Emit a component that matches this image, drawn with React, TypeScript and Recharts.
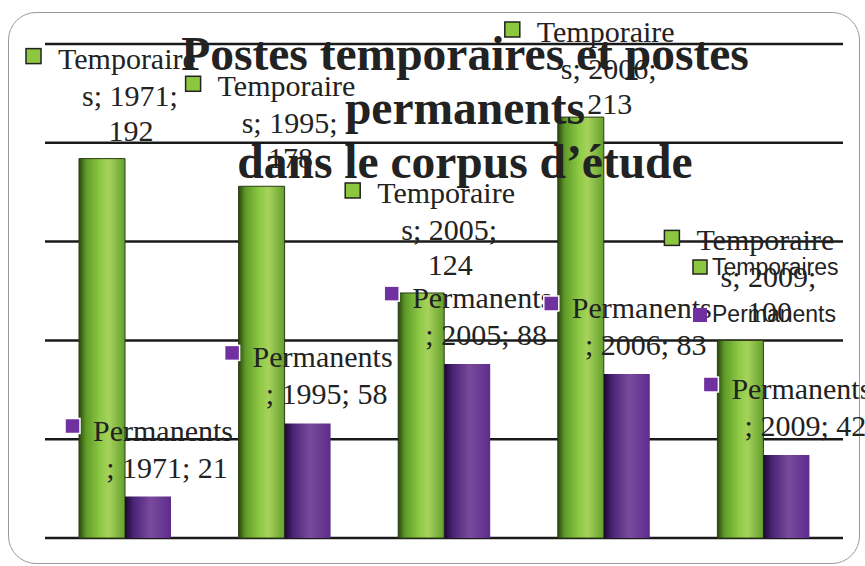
import React from "react";
import { BarChart, Bar, XAxis, YAxis, CartesianGrid, LabelList } from "recharts";

const years = ["1971", "1995", "2005", "2006", "2009"];
const temporaires = [192, 178, 124, 213, 100];
const permanents = [21, 58, 88, 83, 42];
const yTicks = [0, 50, 100, 150, 200, 250];
const seriesNames = ["Temporaires", "Permanents"];
const titleLines = ["Postes temporaires et postes", "permanents", "dans le corpus d’étude"];

const data = years.map((year, i) => ({
  year,
  temporaires: temporaires[i],
  permanents: permanents[i],
}));

const GREEN = "#8dc63f";
const PURPLE = "#7030a0";
const SERIF = "'Liberation Serif', 'Times New Roman', serif";

function box(props: any) {
  const vb = props.viewBox || {};
  return {
    x: props.x ?? vb.x,
    y: props.y ?? vb.y,
    width: props.width ?? vb.width,
    index: props.index,
    value: props.value,
  };
}

const TempLabel = (props: any) => {
  const { x, y, width, index, value } = box(props);
  const cx = x + width;
  const base = y - 90;
  const shift = Math.max(0, 42 - base);
  const t = { fontFamily: SERIF, fontSize: 30, fill: "#222" };
  return (
    <g>
      <rect x={cx - 99} y={base - 20 + shift} width={15} height={15} fill={GREEN} stroke="#222" strokeWidth={1.5} />
      <text x={cx - 67} y={base + shift} {...t}>Temporaire</text>
      <text x={cx + 5} y={y - 53 + shift} textAnchor="middle" {...t}>{`s; ${years[index]};`}</text>
      <text x={cx + 6} y={y - 18 + shift} textAnchor="middle" {...t}>{value}</text>
    </g>
  );
};

const PermLabel = (props: any) => {
  const { x, y, index, value } = box(props);
  const base = y - 56;
  const t = { fontFamily: SERIF, fontSize: 30, fill: "#222" };
  return (
    <g>
      <rect x={x - 60} y={base - 22} width={15} height={15} fill={PURPLE} stroke="#fff" strokeWidth={1.5} />
      <text x={x - 32} y={base} {...t}>Permanents</text>
      <text x={x + 42} y={y - 19} textAnchor="middle" {...t}>{`; ${years[index]}; ${value}`}</text>
    </g>
  );
};

export default function App() {
  return (
    <div style={{ position: "absolute", left: 0, top: 0, width: 865, height: 566, background: "#fff" }}>
      <div
        style={{
          position: "absolute",
          left: 8,
          top: 12,
          width: 850,
          height: 550,
          border: "1.5px solid #9a9a9a",
          borderRadius: 28,
        }}
      />
      <BarChart
        width={865}
        height={566}
        data={data}
        margin={{ top: 44, right: 22, bottom: 28, left: 45 }}
        barSize={46}
        barGap={0}
      >
        <defs>
          <linearGradient id="gGreen" x1="0" y1="0" x2="1" y2="0">
            <stop offset="0%" stopColor="#2a4510" />
            <stop offset="15%" stopColor="#5e9a28" />
            <stop offset="45%" stopColor="#8cc844" />
            <stop offset="65%" stopColor="#a6d25c" />
            <stop offset="100%" stopColor="#64a02c" />
          </linearGradient>
          <linearGradient id="gPurple" x1="0" y1="0" x2="1" y2="0">
            <stop offset="0%" stopColor="#1a0a2e" />
            <stop offset="18%" stopColor="#4a2276" />
            <stop offset="55%" stopColor="#7a4a9c" />
            <stop offset="100%" stopColor="#5e2c8c" />
          </linearGradient>
        </defs>
        <CartesianGrid vertical={false} stroke="#1a1a1a" strokeWidth={2.5} />
        <XAxis dataKey="year" tick={false} height={0} axisLine={{ stroke: "#7f98a2", strokeWidth: 2 }} tickLine={false} />
        <YAxis hide domain={[0, 250]} ticks={yTicks} />
        <Bar dataKey="temporaires" name={seriesNames[0]} fill="url(#gGreen)" stroke="#2c3d14" strokeWidth={1} isAnimationActive={false}>
          <LabelList dataKey="temporaires" content={TempLabel} />
        </Bar>
        <Bar dataKey="permanents" name={seriesNames[1]} fill="url(#gPurple)" isAnimationActive={false}>
          <LabelList dataKey="permanents" content={PermLabel} />
        </Bar>
      </BarChart>
      <svg width={865} height={566} style={{ position: "absolute", left: 0, top: 0, pointerEvents: "none" }}>
        {titleLines.map((line, i) => (
          <text
            key={line}
            x={465}
            y={70 + i * 54}
            textAnchor="middle"
            fontFamily={SERIF}
            fontWeight="bold"
            fontSize={47.5}
            fill="#222"
          >
            {line}
          </text>
        ))}
        {seriesNames.map((name, i) => (
          <g key={name}>
            <rect
              x={693}
              y={260 + i * 48}
              width={14}
              height={14}
              fill={i === 0 ? GREEN : PURPLE}
              stroke={i === 0 ? "#222" : "none"}
              strokeWidth={1.5}
            />
            <text x={712} y={275 + i * 47} fontFamily="'Liberation Sans', Arial, sans-serif" fontSize={23} fill="#222">
              {name}
            </text>
          </g>
        ))}
      </svg>
    </div>
  );
}
